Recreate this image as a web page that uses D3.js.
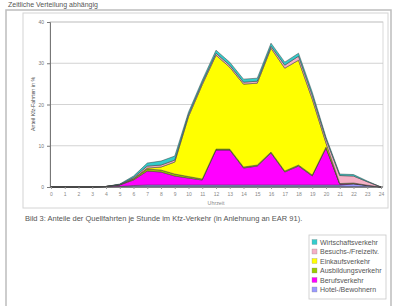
<!DOCTYPE html>
<html><head><meta charset="utf-8">
<script src="https://cdn.jsdelivr.net/npm/d3@7"></script>
<style>body{margin:0;background:#fff;}svg{display:block;font-family:"Liberation Sans",Arial,sans-serif;}</style>
</head><body><svg id="c" width="400" height="306"></svg>
<script>
const hours = ["0","1","2","3","4","5","6","7","8","9","10","11","12","13","14","15","16","17","18","19","20","21","22","23","24"];
const hotel       = [0,0,0,0,0.05,0.12,0.36,0.48,0.48,0.48,0.48,0.48,0.48,0.48,0.48,0.48,0.48,0.48,0.48,0.48,0.48,0.48,0.73,0.36,0];
const beruf       = [0,0,0,0,0.07,0.36,1.33,3.39,3.15,2.18,1.69,1.21,8.47,8.47,4.12,4.6,7.75,3.15,4.6,2.18,8.96,0.24,0.12,0.07,0];
const ausbildung  = [0,0,0,0,0,0.07,0.24,0.48,0.48,0.48,0.36,0.24,0.24,0.24,0.24,0.24,0.24,0.24,0.24,0.24,0.24,0,0,0,0];
const einkauf     = [0,0,0,0,0,0,0.12,0.24,0.73,2.91,14.53,22.88,22.76,19.85,20.1,19.85,25.18,24.94,25.42,18.4,0.97,0.12,0.12,0,0];
const besuch      = [0,0,0,0,0,0.07,0.24,0.48,0.48,0.48,0.48,0.48,0.48,0.48,0.48,0.48,0.48,0.73,0.97,0.97,0.97,1.94,1.69,0.85,0];
const wirtschaft  = [0,0,0,0,0,0.1,0.36,0.73,0.97,0.97,0.61,0.61,0.73,0.73,0.73,0.73,0.73,0.73,0.73,0.73,0.48,0.36,0.36,0.17,0];
const seriesNames = ["Hotel-/Bewohnern","Berufsverkehr","Ausbildungsverkehr","Einkaufsverkehr","Besuchs-/Freizeitv.","Wirtschaftsverkehr"];
const seriesData  = [hotel, beruf, ausbildung, einkauf, besuch, wirtschaft];
const seriesColors = ["#9999FF","#FF00FF","#99CC00","#FFFF00","#F5B0C5","#33CCCC"];
const yTicks = [0,10,20,30,40];

const svg = d3.select("#c");
// top fragment text
svg.append("text").attr("x",8).attr("y",7).attr("font-size",7).attr("fill","#555").text("Zeitliche Verteilung abhängig");
// outer frame
svg.append("rect").attr("x",6).attr("y",10).attr("width",385).attr("height",300)
  .attr("fill","#fff").attr("stroke","#bdbdbd").attr("stroke-width",1.5);
// chart area
svg.append("rect").attr("x",23).attr("y",13).attr("width",365).attr("height",195)
  .attr("fill","#fff").attr("stroke","#d4d4d4").attr("stroke-width",1);

const x = d3.scalePoint().domain(hours).range([51,381]);
const y = d3.scaleLinear().domain([0,40]).range([187,22]);

// plot border
svg.append("rect").attr("x",50).attr("y",22).attr("width",333).attr("height",165)
  .attr("fill","none").attr("stroke","#cfcfcf").attr("stroke-width",0.8);
// gridlines
svg.append("g").selectAll("line").data(yTicks).join("line")
  .attr("x1",50).attr("x2",383).attr("y1",d=>y(d)).attr("y2",d=>y(d))
  .attr("stroke","#c8c8c8").attr("stroke-width",0.8);

const table = hours.map((h,i)=>{const o={h}; seriesNames.forEach((n,k)=>o[n]=seriesData[k][i]); return o;});
const stack = d3.stack().keys(seriesNames)(table);
const area = d3.area().x(d=>x(d.data.h)).y0(d=>y(d[0])).y1(d=>y(d[1]));
svg.append("g").selectAll("path").data(stack).join("path")
  .attr("d",area).attr("fill",(d,i)=>seriesColors[i])
  .attr("stroke","#3a3a3a").attr("stroke-width",0.5).attr("stroke-linejoin","round");

// axes
const yAxis = d3.axisLeft(y).tickValues(yTicks).tickSize(3).tickFormat(d3.format("d"));
const gy = svg.append("g").attr("transform","translate(50,0)").call(yAxis);
gy.select(".domain").attr("stroke","#777");
gy.selectAll(".tick line").attr("stroke","#777");
gy.selectAll("text").attr("font-size",5).attr("fill","#777").attr("font-family","Liberation Sans, Arial");

const xAxis = d3.axisBottom(x).tickSize(2).tickPadding(3);
const gx = svg.append("g").attr("transform","translate(0,187)").call(xAxis);
gx.select(".domain").attr("stroke","#555").attr("d","M50,0H383");
gx.selectAll(".tick line").attr("stroke","#999");
gx.selectAll("text").attr("font-size",5).attr("fill","#888").attr("font-family","Liberation Sans, Arial");

svg.append("text").attr("transform","translate(35,104) rotate(-90)").attr("text-anchor","middle")
  .attr("font-size",5.3).attr("fill","#444").text("Anteil Kfz-Fahrten in %");
svg.append("text").attr("x",216).attr("y",205).attr("text-anchor","middle")
  .attr("font-size",5.3).attr("fill","#888").text("Uhrzeit");

// caption
svg.append("text").attr("x",25).attr("y",221).attr("font-size",7.5).attr("fill","#555")
  .text("Bild 3: Anteile der Quellfahrten je Stunde im Kfz-Verkehr (in Anlehnung an EAR 91).");

// legend
const lg = svg.append("g");
lg.append("rect").attr("x",309).attr("y",235).attr("width",77).attr("height",64)
  .attr("fill","#fff").attr("stroke","#c8c8c8").attr("stroke-width",0.8);
const legendOrder = d3.range(seriesNames.length).reverse();
const items = lg.selectAll("g.it").data(legendOrder).join("g").attr("class","it")
  .attr("transform",(d,j)=>`translate(312,${242.5+j*9.5})`);
items.append("rect").attr("x",0).attr("y",-3).attr("width",5).attr("height",5)
  .attr("fill",d=>seriesColors[d]).attr("stroke","#888").attr("stroke-width",0.3);
items.append("text").attr("x",8).attr("y",2).attr("font-size",7).attr("fill","#555")
  .text(d=>seriesNames[d]);
</script></body></html>
